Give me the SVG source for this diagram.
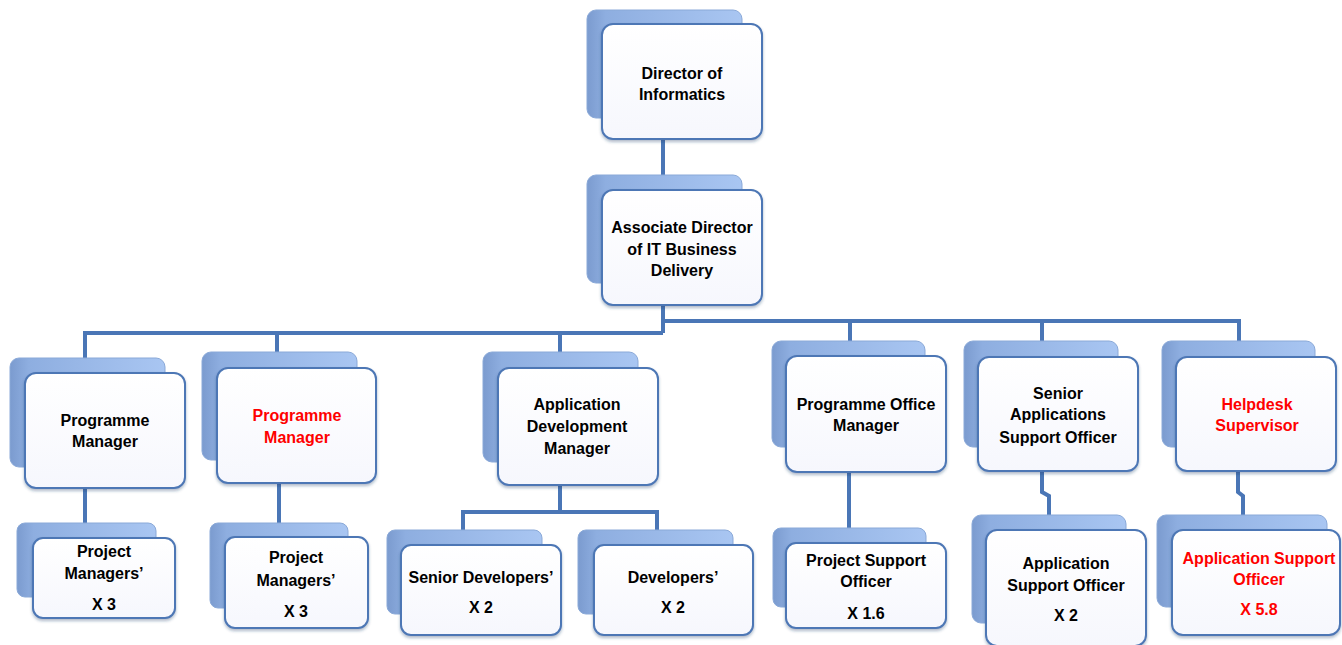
<svg xmlns="http://www.w3.org/2000/svg" width="1342" height="645" viewBox="0 0 1342 645">
<defs>
<linearGradient id="gBack" x1="0" y1="0" x2="1" y2="0">
<stop offset="0" stop-color="#7b9bcf"/>
<stop offset="0.12" stop-color="#8eaee0"/>
<stop offset="1" stop-color="#a9c6f2"/>
</linearGradient>
<linearGradient id="gFront" x1="0" y1="0" x2="0" y2="1">
<stop offset="0" stop-color="#ffffff"/>
<stop offset="1" stop-color="#f6f7fd"/>
</linearGradient>
<filter id="sh" x="-10%" y="-10%" width="120%" height="125%">
<feDropShadow dx="0" dy="2" stdDeviation="1.5" flood-color="#1f3a66" flood-opacity="0.35"/>
</filter>
</defs>
<style>
.back{fill:url(#gBack);stroke:#8aa9d8;stroke-width:1}
.front{fill:url(#gFront);stroke:#4d77b5;stroke-width:2;filter:url(#sh)}
.t{font-family:"Liberation Sans",Arial,sans-serif;font-weight:bold;font-size:16px;text-anchor:middle;fill:#000}
.red{fill:#ff0000}
.c{fill:none;stroke:#4a76b6;stroke-width:4;stroke-linejoin:miter}
</style>
<g id="connectors">
<path class="c" d="M663 139 V190"/>
<path class="c" d="M663 305 V333 M663 333 H85 V358 M277 333 V352 M560 333 V352"/>
<path class="c" d="M663 321 H1239 V341 M850 321 V341 M1042 321 V341"/>
<path class="c" d="M85 488 V523 M279 483 V523 M560 485 V512 M463 530 V512 H657 V530"/>
<path class="c" d="M849 472 V528 M1042 471 V492 L1049 496 V515 M1238 471 V492 L1243 496 V515"/>
</g>
<g id="director">
<rect class="back" x="587" y="10" width="155" height="108" rx="9"/>
<rect class="front" x="602" y="24" width="160" height="115" rx="11"/>
<text class="t" x="682" y="79">Director of</text>
<text class="t" x="682" y="100">Informatics</text>
</g>
<g id="assoc">
<rect class="back" x="587" y="175" width="155" height="108" rx="9"/>
<rect class="front" x="602" y="190" width="160" height="115" rx="11"/>
<text class="t" x="682" y="233">Associate Director</text>
<text class="t" x="682" y="255">of IT Business</text>
<text class="t" x="682" y="276">Delivery</text>
</g>
<g id="pm1">
<rect class="back" x="10" y="358" width="155" height="109" rx="9"/>
<rect class="front" x="25" y="373" width="160" height="115" rx="11"/>
<text class="t" x="105" y="426">Programme</text>
<text class="t" x="105" y="447">Manager</text>
</g>
<g id="pm2">
<rect class="back" x="202" y="352" width="155" height="108" rx="9"/>
<rect class="front" x="217" y="368" width="159" height="115" rx="11"/>
<text class="t red" x="297" y="421">Programme</text>
<text class="t red" x="297" y="443">Manager</text>
</g>
<g id="adm">
<rect class="back" x="483" y="352" width="155" height="110" rx="9"/>
<rect class="front" x="498" y="368" width="160" height="117" rx="11"/>
<text class="t" x="577" y="410">Application</text>
<text class="t" x="577" y="432">Development</text>
<text class="t" x="577" y="454">Manager</text>
</g>
<g id="pom">
<rect class="back" x="772" y="341" width="153" height="106" rx="9"/>
<rect class="front" x="786" y="356" width="160" height="116" rx="11"/>
<text class="t" x="866" y="410">Programme Office</text>
<text class="t" x="866" y="431">Manager</text>
</g>
<g id="saso">
<rect class="back" x="964" y="341" width="154" height="106" rx="9"/>
<rect class="front" x="978" y="357" width="160" height="114" rx="11"/>
<text class="t" x="1058" y="399">Senior</text>
<text class="t" x="1058" y="420">Applications</text>
<text class="t" x="1058" y="443">Support Officer</text>
</g>
<g id="helpdesk">
<rect class="back" x="1162" y="341" width="153" height="106" rx="9"/>
<rect class="front" x="1176" y="357" width="160" height="114" rx="11"/>
<text class="t red" x="1257" y="410">Helpdesk</text>
<text class="t red" x="1257" y="431">Supervisor</text>
</g>
<g id="pmx1">
<rect class="back" x="17" y="523" width="139" height="74" rx="8"/>
<rect class="front" x="33" y="538" width="142" height="80" rx="10"/>
<text class="t" x="104" y="557">Project</text>
<text class="t" x="104" y="579">Managers’</text>
<text class="t" x="104" y="610">X 3</text>
</g>
<g id="pmx2">
<rect class="back" x="210" y="523" width="138" height="85" rx="8"/>
<rect class="front" x="225" y="537" width="143" height="91" rx="10"/>
<text class="t" x="296" y="563">Project</text>
<text class="t" x="296" y="586">Managers’</text>
<text class="t" x="296" y="617">X 3</text>
</g>
<g id="sendev">
<rect class="back" x="387" y="530" width="155" height="84" rx="8"/>
<rect class="front" x="401" y="545" width="160" height="90" rx="10"/>
<text class="t" x="481" y="583">Senior Developers’</text>
<text class="t" x="481" y="613">X 2</text>
</g>
<g id="dev">
<rect class="back" x="578" y="530" width="155" height="84" rx="8"/>
<rect class="front" x="594" y="545" width="159" height="90" rx="10"/>
<text class="t" x="673" y="583">Developers’</text>
<text class="t" x="673" y="613">X 2</text>
</g>
<g id="pso">
<rect class="back" x="773" y="528" width="153" height="79" rx="8"/>
<rect class="front" x="786" y="543" width="160" height="85" rx="10"/>
<text class="t" x="866" y="566">Project Support</text>
<text class="t" x="866" y="587">Officer</text>
<text class="t" x="866" y="619">X  1.6</text>
</g>
<g id="aso">
<rect class="back" x="972" y="515" width="154" height="108" rx="9"/>
<rect class="front" x="986" y="530" width="160" height="116" rx="11"/>
<text class="t" x="1066" y="569">Application</text>
<text class="t" x="1066" y="591">Support Officer</text>
<text class="t" x="1066" y="621">X 2</text>
</g>
<g id="aso2">
<rect class="back" x="1157" y="515" width="170" height="92" rx="9"/>
<rect class="front" x="1172" y="530" width="168" height="105" rx="11"/>
<text class="t red" x="1259" y="564">Application Support</text>
<text class="t red" x="1259" y="585">Officer</text>
<text class="t red" x="1259" y="615">X 5.8</text>
</g>
</svg>
